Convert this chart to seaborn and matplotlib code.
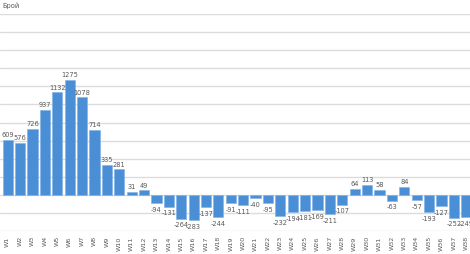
import matplotlib
matplotlib.use("Agg")
import matplotlib.pyplot as plt
import seaborn as sns
import pandas as pd

weeks = [f"W{i}" for i in range(1, 39)]
values = [609, 576, 726, 937, 1132, 1275, 1078, 714, 335, 281, 31, 49,
          -94, -131, -264, -283, -137, -244, -91, -111, -40, -95, -232,
          -194, -181, -169, -211, -107, 64, 113, 58, -63, 84, -57, -193,
          -127, -252, -249]
y_label = "Брой"

df = pd.DataFrame({"week": weeks, "value": values})

sns.set_theme(style="white")
plt.rcParams['font.family'] = ['DejaVu Sans']

fig = plt.figure(figsize=(4.7, 2.55), dpi=100)
ax = fig.add_axes([0.0, 1 - 232 / 255, 1.0, (232 - 15) / 255])

sns.barplot(data=df, x="week", y="value", color="#4a8fd6", saturation=1,
            width=0.82, edgecolor="#7fb2e6", linewidth=0.4, ax=ax, zorder=3)

ax.set_ylim(-400, 2000)
ax.set_xlim(-0.62, 37.3)
ax.set_yticks(range(-400, 2001, 200))
ax.yaxis.grid(True, color="#dcdcdc", linewidth=1.0, zorder=0)
ax.set_axisbelow(True)
ax.tick_params(axis="y", left=False, labelleft=False)
ax.set_xticks(range(len(weeks)))
ax.set_xticklabels(weeks, rotation=90, ha="center", va="top",
                   fontsize=4.6, color="#595959")
ax.tick_params(axis="x", bottom=False, length=0, pad=3)
for s in ax.spines.values():
    s.set_visible(False)
ax.set_xlabel("")
ax.set_ylabel("")

for i, v in enumerate(values):
    if v >= 0:
        ax.annotate(str(v), (i, v), xytext=(0, 2), textcoords="offset points",
                    ha="center", va="bottom", fontsize=4.8, color="#595959")
    else:
        ax.annotate(str(v), (i, v), xytext=(0, -2), textcoords="offset points",
                    ha="center", va="top", fontsize=4.8, color="#595959")

fig.text(0.006, 1 - 6 / 255, y_label, fontsize=4.8, color="#595959",
         ha="left", va="center")

fig.savefig("out.png", dpi=100)
